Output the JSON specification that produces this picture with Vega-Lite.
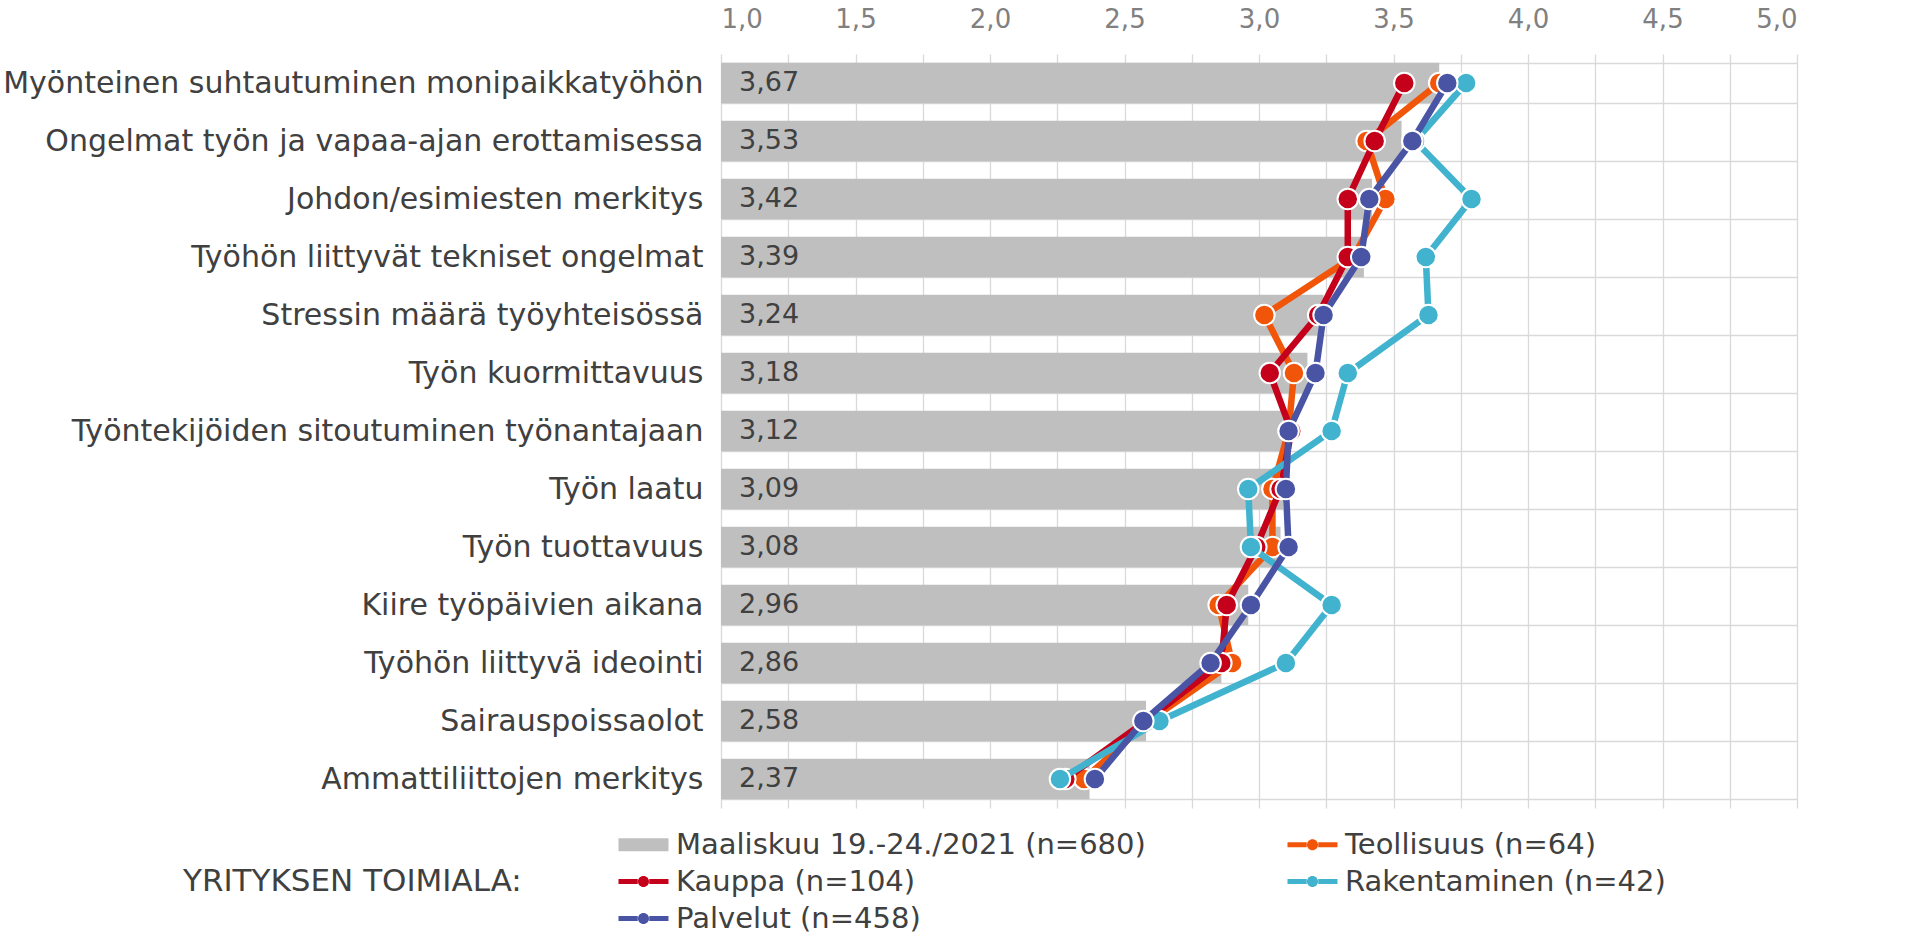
{
  "$schema": "https://vega.github.io/schema/vega-lite/v6.json",
  "width": 1076,
  "height": 754,
  "autosize": {"type": "none"},
  "padding": {"left": 721, "top": 54, "right": 111, "bottom": 126},
  "background": "white",
  "config": {
    "locale": {"number": {"decimal": ",", "thousands": " ", "grouping": [3], "currency": ["", " €"]}},
    "font": "DejaVu Sans",
    "view": {"stroke": null}
  },
  "data": {"values": [
    {"cat": "Myönteinen suhtautuminen monipaikkatyöhön", "series": "Maaliskuu 19.-24./2021 (n=680)", "v": 3.67},
    {"cat": "Ongelmat työn ja vapaa-ajan erottamisessa", "series": "Maaliskuu 19.-24./2021 (n=680)", "v": 3.53},
    {"cat": "Johdon/esimiesten merkitys", "series": "Maaliskuu 19.-24./2021 (n=680)", "v": 3.42},
    {"cat": "Työhön liittyvät tekniset ongelmat", "series": "Maaliskuu 19.-24./2021 (n=680)", "v": 3.39},
    {"cat": "Stressin määrä työyhteisössä", "series": "Maaliskuu 19.-24./2021 (n=680)", "v": 3.24},
    {"cat": "Työn kuormittavuus", "series": "Maaliskuu 19.-24./2021 (n=680)", "v": 3.18},
    {"cat": "Työntekijöiden sitoutuminen työnantajaan", "series": "Maaliskuu 19.-24./2021 (n=680)", "v": 3.12},
    {"cat": "Työn laatu", "series": "Maaliskuu 19.-24./2021 (n=680)", "v": 3.09},
    {"cat": "Työn tuottavuus", "series": "Maaliskuu 19.-24./2021 (n=680)", "v": 3.08},
    {"cat": "Kiire työpäivien aikana", "series": "Maaliskuu 19.-24./2021 (n=680)", "v": 2.96},
    {"cat": "Työhön liittyvä ideointi", "series": "Maaliskuu 19.-24./2021 (n=680)", "v": 2.86},
    {"cat": "Sairauspoissaolot", "series": "Maaliskuu 19.-24./2021 (n=680)", "v": 2.58},
    {"cat": "Ammattiliittojen merkitys", "series": "Maaliskuu 19.-24./2021 (n=680)", "v": 2.37},

    {"cat": "Myönteinen suhtautuminen monipaikkatyöhön", "series": "Teollisuus (n=64)", "v": 3.67},
    {"cat": "Ongelmat työn ja vapaa-ajan erottamisessa", "series": "Teollisuus (n=64)", "v": 3.40},
    {"cat": "Johdon/esimiesten merkitys", "series": "Teollisuus (n=64)", "v": 3.47},
    {"cat": "Työhön liittyvät tekniset ongelmat", "series": "Teollisuus (n=64)", "v": 3.35},
    {"cat": "Stressin määrä työyhteisössä", "series": "Teollisuus (n=64)", "v": 3.02},
    {"cat": "Työn kuormittavuus", "series": "Teollisuus (n=64)", "v": 3.13},
    {"cat": "Työntekijöiden sitoutuminen työnantajaan", "series": "Teollisuus (n=64)", "v": 3.11},
    {"cat": "Työn laatu", "series": "Teollisuus (n=64)", "v": 3.05},
    {"cat": "Työn tuottavuus", "series": "Teollisuus (n=64)", "v": 3.05},
    {"cat": "Kiire työpäivien aikana", "series": "Teollisuus (n=64)", "v": 2.85},
    {"cat": "Työhön liittyvä ideointi", "series": "Teollisuus (n=64)", "v": 2.90},
    {"cat": "Sairauspoissaolot", "series": "Teollisuus (n=64)", "v": 2.59},
    {"cat": "Ammattiliittojen merkitys", "series": "Teollisuus (n=64)", "v": 2.35},

    {"cat": "Myönteinen suhtautuminen monipaikkatyöhön", "series": "Kauppa (n=104)", "v": 3.54},
    {"cat": "Ongelmat työn ja vapaa-ajan erottamisessa", "series": "Kauppa (n=104)", "v": 3.43},
    {"cat": "Johdon/esimiesten merkitys", "series": "Kauppa (n=104)", "v": 3.33},
    {"cat": "Työhön liittyvät tekniset ongelmat", "series": "Kauppa (n=104)", "v": 3.33},
    {"cat": "Stressin määrä työyhteisössä", "series": "Kauppa (n=104)", "v": 3.22},
    {"cat": "Työn kuormittavuus", "series": "Kauppa (n=104)", "v": 3.04},
    {"cat": "Työntekijöiden sitoutuminen työnantajaan", "series": "Kauppa (n=104)", "v": 3.12},
    {"cat": "Työn laatu", "series": "Kauppa (n=104)", "v": 3.08},
    {"cat": "Työn tuottavuus", "series": "Kauppa (n=104)", "v": 2.99},
    {"cat": "Kiire työpäivien aikana", "series": "Kauppa (n=104)", "v": 2.88},
    {"cat": "Työhön liittyvä ideointi", "series": "Kauppa (n=104)", "v": 2.86},
    {"cat": "Sairauspoissaolot", "series": "Kauppa (n=104)", "v": 2.58},
    {"cat": "Ammattiliittojen merkitys", "series": "Kauppa (n=104)", "v": 2.28},

    {"cat": "Myönteinen suhtautuminen monipaikkatyöhön", "series": "Rakentaminen (n=42)", "v": 3.77},
    {"cat": "Ongelmat työn ja vapaa-ajan erottamisessa", "series": "Rakentaminen (n=42)", "v": 3.58},
    {"cat": "Johdon/esimiesten merkitys", "series": "Rakentaminen (n=42)", "v": 3.79},
    {"cat": "Työhön liittyvät tekniset ongelmat", "series": "Rakentaminen (n=42)", "v": 3.62},
    {"cat": "Stressin määrä työyhteisössä", "series": "Rakentaminen (n=42)", "v": 3.63},
    {"cat": "Työn kuormittavuus", "series": "Rakentaminen (n=42)", "v": 3.33},
    {"cat": "Työntekijöiden sitoutuminen työnantajaan", "series": "Rakentaminen (n=42)", "v": 3.27},
    {"cat": "Työn laatu", "series": "Rakentaminen (n=42)", "v": 2.96},
    {"cat": "Työn tuottavuus", "series": "Rakentaminen (n=42)", "v": 2.97},
    {"cat": "Kiire työpäivien aikana", "series": "Rakentaminen (n=42)", "v": 3.27},
    {"cat": "Työhön liittyvä ideointi", "series": "Rakentaminen (n=42)", "v": 3.10},
    {"cat": "Sairauspoissaolot", "series": "Rakentaminen (n=42)", "v": 2.63},
    {"cat": "Ammattiliittojen merkitys", "series": "Rakentaminen (n=42)", "v": 2.26},

    {"cat": "Myönteinen suhtautuminen monipaikkatyöhön", "series": "Palvelut (n=458)", "v": 3.70},
    {"cat": "Ongelmat työn ja vapaa-ajan erottamisessa", "series": "Palvelut (n=458)", "v": 3.57},
    {"cat": "Johdon/esimiesten merkitys", "series": "Palvelut (n=458)", "v": 3.41},
    {"cat": "Työhön liittyvät tekniset ongelmat", "series": "Palvelut (n=458)", "v": 3.38},
    {"cat": "Stressin määrä työyhteisössä", "series": "Palvelut (n=458)", "v": 3.24},
    {"cat": "Työn kuormittavuus", "series": "Palvelut (n=458)", "v": 3.21},
    {"cat": "Työntekijöiden sitoutuminen työnantajaan", "series": "Palvelut (n=458)", "v": 3.11},
    {"cat": "Työn laatu", "series": "Palvelut (n=458)", "v": 3.10},
    {"cat": "Työn tuottavuus", "series": "Palvelut (n=458)", "v": 3.11},
    {"cat": "Kiire työpäivien aikana", "series": "Palvelut (n=458)", "v": 2.97},
    {"cat": "Työhön liittyvä ideointi", "series": "Palvelut (n=458)", "v": 2.82},
    {"cat": "Sairauspoissaolot", "series": "Palvelut (n=458)", "v": 2.57},
    {"cat": "Ammattiliittojen merkitys", "series": "Palvelut (n=458)", "v": 2.39}
  ]},
  "encoding": {
    "y": {
      "field": "cat", "type": "nominal", "sort": null,
      "scale": {"paddingInner": 0.3, "paddingOuter": 0.15},
      "axis": {"title": null, "domain": false, "ticks": false, "tickBand": "extent", "grid": true, "gridColor": "#d9d9d9", "gridWidth": 1.3,
               "labelFontSize": 30, "labelColor": "#404040", "labelPadding": 18, "labelLimit": 720}
    }
  },
  "layer": [
    {
      "transform": [{"filter": "datum.series == 'Maaliskuu 19.-24./2021 (n=680)'"}],
      "mark": {"type": "bar", "fill": "#BFBFBF"},
      "encoding": {
        "x": {"field": "v", "type": "quantitative",
              "scale": {"domain": [1, 5], "nice": false, "zero": false},
              "axis": {"orient": "top", "title": null, "values": [1, 1.25, 1.5, 1.75, 2, 2.25, 2.5, 2.75, 3, 3.25, 3.5, 3.75, 4, 4.25, 4.5, 4.75, 5],
                       "format": ".1f", "labelExpr": "round(datum.value * 4) % 2 == 0 ? datum.label : ''",
                       "domain": false, "ticks": false, "tickSize": 0, "grid": true, "gridColor": "#d9d9d9", "gridWidth": 1.3,
                       "labelFontSize": 26, "labelColor": "#808080", "labelPadding": 27, "labelBaseline": "alphabetic"}},
        "x2": {"datum": 1},
        "color": {
          "field": "series", "type": "nominal",
          "scale": {
            "domain": ["Maaliskuu 19.-24./2021 (n=680)", "Kauppa (n=104)", "Palvelut (n=458)", "Teollisuus (n=64)", "Rakentaminen (n=42)"],
            "range": ["#BFBFBF", "#C4001A", "#4A54A5", "#F0550A", "#41B3CE"]
          },
          "legend": {
            "title": "YRITYKSEN TOIMIALA:", "orient": "none", "legendX": -538, "legendY": 776,
            "columns": 2, "columnPadding": 134, "rowPadding": 7,
            "titleOrient": "left", "titleAnchor": "middle", "titleBaseline": "middle",
            "titleFontSize": 31, "titleFontWeight": "normal", "titleColor": "#404040", "titlePadding": 89, "titleLimit": 600,
            "labelFontSize": 29, "labelColor": "#404040", "labelOffset": 36, "labelLimit": 800,
            "symbolSize": 196, "symbolStrokeWidth": 0, "padding": 0,
            "encode": {"symbols": {"update": {
              "shape": {"signal": "datum.value == 'Maaliskuu 19.-24./2021 (n=680)' ? 'M-1,-0.93L6.14,-0.93L6.14,0.93L-1,0.93Z' : 'M-1,-0.36L1.75,-0.36L1.75,0.36L-1,0.36Z M3.39,-0.36L6.14,-0.36L6.14,0.36L3.39,0.36Z M1.78,0A0.79,0.79 0 1,0 3.36,0A0.79,0.79 0 1,0 1.78,0Z'"},
              "fill": {"scale": "color", "field": "value"},
              "strokeWidth": {"value": 0},
              "opacity": {"value": 1},
              "size": {"value": 196}
            }}}
          }
        }
      }
    },
    {
      "transform": [{"filter": "datum.series == 'Maaliskuu 19.-24./2021 (n=680)'"}],
      "mark": {"type": "text", "align": "left", "baseline": "middle", "dx": 18, "fontSize": 27, "color": "#404040"},
      "encoding": {
        "x": {"datum": 1, "type": "quantitative"},
        "text": {"field": "v", "type": "quantitative", "format": ".2f"}
      }
    },
    {
      "transform": [{"filter": "datum.series == 'Teollisuus (n=64)'"}],
      "mark": {"type": "line", "strokeWidth": 6.5, "point": {"filled": true, "size": 420, "stroke": "white", "strokeWidth": 2}},
      "encoding": {
        "x": {"field": "v", "type": "quantitative"},
        "order": {"value": null},
        "color": {"field": "series", "type": "nominal"}
      }
    },
    {
      "transform": [{"filter": "datum.series == 'Kauppa (n=104)'"}],
      "mark": {"type": "line", "strokeWidth": 6.5, "point": {"filled": true, "size": 420, "stroke": "white", "strokeWidth": 2}},
      "encoding": {
        "x": {"field": "v", "type": "quantitative"},
        "order": {"value": null},
        "color": {"field": "series", "type": "nominal"}
      }
    },
    {
      "transform": [{"filter": "datum.series == 'Rakentaminen (n=42)'"}],
      "mark": {"type": "line", "strokeWidth": 6.5, "point": {"filled": true, "size": 420, "stroke": "white", "strokeWidth": 2}},
      "encoding": {
        "x": {"field": "v", "type": "quantitative"},
        "order": {"value": null},
        "color": {"field": "series", "type": "nominal"}
      }
    },
    {
      "transform": [{"filter": "datum.series == 'Palvelut (n=458)'"}],
      "mark": {"type": "line", "strokeWidth": 6.5, "point": {"filled": true, "size": 420, "stroke": "white", "strokeWidth": 2}},
      "encoding": {
        "x": {"field": "v", "type": "quantitative"},
        "order": {"value": null},
        "color": {"field": "series", "type": "nominal"}
      }
    }
  ]
}
